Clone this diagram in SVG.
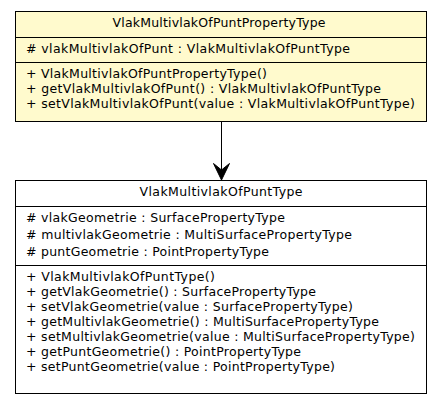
<svg xmlns="http://www.w3.org/2000/svg" width="443" height="405" viewBox="0 0 443 405">
<style>
.box{stroke:#000;stroke-width:1}
.t{font-family:"DejaVu Sans",sans-serif;font-size:12.5px;fill:#000}
.c{text-anchor:middle}
</style>
<rect width="443" height="405" fill="#fff"/>
<g id="connectors">
<line x1="221.5" y1="121" x2="221.5" y2="172" stroke="#000" stroke-width="1"/>
<path d="M213.5,163.5 L221.5,180 L229.5,163.5 L221.5,170 Z" fill="#000" stroke="#000" stroke-width="1"/>
</g>
<g id="VlakMultivlakOfPuntPropertyType">
<rect x="15.5" y="11.5" width="411" height="110" fill="#fffacd" class="box"/>
<line x1="15.5" y1="37.5" x2="426.5" y2="37.5" class="box"/>
<line x1="15.5" y1="62.5" x2="426.5" y2="62.5" class="box"/>
<text class="t c" x="219" y="27" textLength="213" lengthAdjust="spacing">VlakMultivlakOfPuntPropertyType</text>
<text class="t" x="26" y="53" textLength="324" lengthAdjust="spacing">#&#160;vlakMultivlakOfPunt : VlakMultivlakOfPuntType</text>
<text class="t" x="26" y="78" textLength="241" lengthAdjust="spacing">+ VlakMultivlakOfPuntPropertyType()</text>
<text class="t" x="26" y="93" textLength="355" lengthAdjust="spacing">+ getVlakMultivlakOfPunt() : VlakMultivlakOfPuntType</text>
<text class="t" x="26" y="108" textLength="389" lengthAdjust="spacing">+ setVlakMultivlakOfPunt(value : VlakMultivlakOfPuntType)</text>
</g>
<g id="VlakMultivlakOfPuntType">
<rect x="15.5" y="180.5" width="411" height="213" fill="#fff" class="box"/>
<line x1="15.5" y1="206.5" x2="426.5" y2="206.5" class="box"/>
<line x1="15.5" y1="265.5" x2="426.5" y2="265.5" class="box"/>
<text class="t c" x="221" y="196" textLength="163" lengthAdjust="spacing">VlakMultivlakOfPuntType</text>
<text class="t" x="26" y="222" textLength="259" lengthAdjust="spacing">#&#160;vlakGeometrie : SurfacePropertyType</text>
<text class="t" x="26" y="239" textLength="326" lengthAdjust="spacing">#&#160;multivlakGeometrie : MultiSurfacePropertyType</text>
<text class="t" x="26" y="256" textLength="243" lengthAdjust="spacing">#&#160;puntGeometrie : PointPropertyType</text>
<text class="t" x="26" y="281" textLength="189" lengthAdjust="spacing">+ VlakMultivlakOfPuntType()</text>
<text class="t" x="26" y="296" textLength="290" lengthAdjust="spacing">+ getVlakGeometrie() : SurfacePropertyType</text>
<text class="t" x="26" y="311" textLength="327" lengthAdjust="spacing">+ setVlakGeometrie(value : SurfacePropertyType)</text>
<text class="t" x="26" y="326" textLength="353" lengthAdjust="spacing">+ getMultivlakGeometrie() : MultiSurfacePropertyType</text>
<text class="t" x="26" y="341" textLength="389" lengthAdjust="spacing">+ setMultivlakGeometrie(value : MultiSurfacePropertyType)</text>
<text class="t" x="26" y="356" textLength="275" lengthAdjust="spacing">+ getPuntGeometrie() : PointPropertyType</text>
<text class="t" x="26" y="371" textLength="309" lengthAdjust="spacing">+ setPuntGeometrie(value : PointPropertyType)</text>
</g>
</svg>
